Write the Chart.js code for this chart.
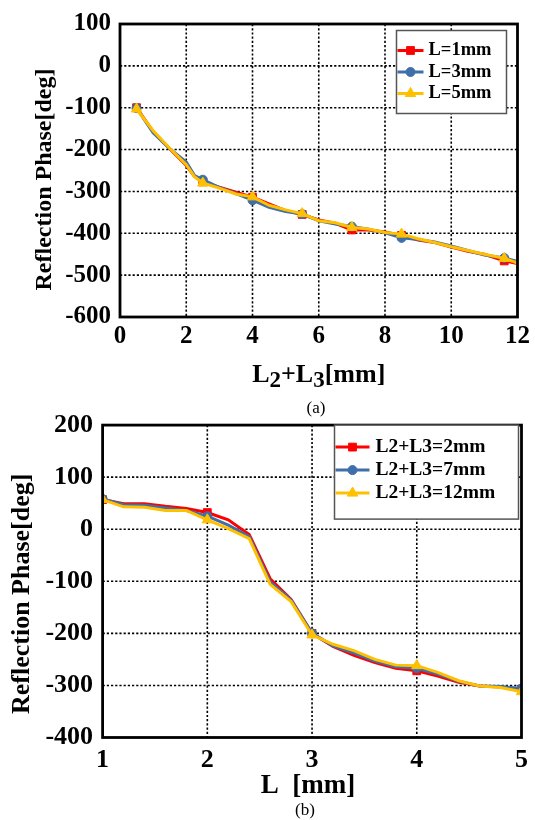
<!DOCTYPE html>
<html>
<head>
<meta charset="utf-8">
<script src="https://cdn.jsdelivr.net/npm/chart.js@4.4.0/dist/chart.umd.min.js"></script>
<style>
  body { margin: 0; background: #fff; width: 535px; height: 820px; position: relative; overflow: hidden; }
  .panel { position: absolute; left: 0; }
  #panelA { top: 0; }
  #panelB { top: 400px; }
  .cap { position: absolute; font: 17px 'Liberation Serif', 'Times New Roman', serif; transform: translate(-50%, -50%); }
</style>
</head>
<body>
<div class="panel" id="panelA"><canvas id="phaseA" width="535" height="400"></canvas></div>
<div class="panel" id="panelB"><canvas id="phaseB" width="535" height="420"></canvas></div>
<div class="cap" style="left:316px; top:408px">(a)</div>
<div class="cap" style="left:305px; top:810px">(b)</div>
<script>
const SERIF = "'Liberation Serif', 'Times New Roman', serif";

// (a) reflection phase against L2+L3, one curve per L
const sumLen = [0.5, 1, 1.5, 2, 2.25, 2.5, 3, 3.5, 4, 4.5, 5, 5.5, 6, 6.5, 7, 7.5, 8, 8.5, 9, 9.5, 10, 10.5, 11, 11.6, 12];
const phaseL1 = [-100, -157, -198, -238, -264, -277, -290, -302, -314, -330, -346, -355, -368, -376, -392, -392, -397, -405, -416, -422, -433, -443, -450, -466, -472];
const phaseL3 = [-101, -160, -198, -230, -262, -272, -291, -305, -321, -338, -348, -354, -370, -378, -384, -390, -399, -411, -415, -421, -430, -441, -452, -459, -467];
const phaseL5 = [-103, -155, -197, -236, -265, -280, -292, -306, -313, -333, -344, -353, -370, -375, -386, -390, -398, -402, -413, -422, -432, -441, -450, -460, -471];
const markedA = [0.5, 2.5, 4, 5.5, 7, 8.5, 11.6];
const labelsA = ['L=1mm', 'L=3mm', 'L=5mm'];

// (b) reflection phase against L, one curve per L2+L3
const lenL = [1, 1.2, 1.4, 1.6, 1.8, 2, 2.2, 2.4, 2.6, 2.8, 3, 3.2, 3.4, 3.6, 3.8, 4, 4.2, 4.4, 4.6, 4.8, 5];
const phaseS2 = [57, 49, 49, 44, 40, 32, 18, -10, -95, -135, -200, -225, -242, -256, -267, -272, -282, -294, -301, -303, -307];
const phaseS7 = [58, 47, 46, 41, 36, 25, 8, -14, -101, -136, -200, -224, -238, -253, -264, -267, -278, -292, -301, -302, -306];
const phaseS12 = [57, 43, 42, 36, 36, 18, 1, -18, -106, -139, -203, -221, -233, -250, -261, -262, -275, -291, -301, -304, -312];
const markedB = [1, 2, 3, 4, 5];
const labelsB = ['L2+L3=2mm', 'L2+L3=7mm', 'L2+L3=12mm'];

const RED = '#ff0000';
const BLUE = '#3f6eaa';
const GOLD = '#ffc000';

function series(label, xs, ys, marked, color, style, radius, order) {
  return {
    label: label,
    data: xs.map((x, i) => ({ x: x, y: ys[i] })),
    borderColor: color,
    backgroundColor: color,
    borderWidth: 3,
    tension: 0,
    pointStyle: style,
    pointRadius: xs.map(x => marked.includes(x) ? radius : 0),
    pointBorderWidth: 1,
    pointHoverRadius: 0,
    legendRadius: radius,
    order: order
  };
}

// dotted grid at every inner tick, drawn under the curves
const dottedGrid = {
  id: 'dottedGrid',
  beforeDatasetsDraw(chart) {
    const { ctx, chartArea: a } = chart;
    ctx.save();
    ctx.strokeStyle = '#000';
    ctx.lineWidth = 1.6;
    ctx.setLineDash([2.2, 2]);
    chart.scales.x.ticks.forEach(t => {
      const px = chart.scales.x.getPixelForValue(t.value);
      if (px < a.left + 3 || px > a.right - 3) return;
      ctx.beginPath();
      ctx.moveTo(px, a.top);
      ctx.lineTo(px, a.bottom);
      ctx.stroke();
    });
    chart.scales.y.ticks.forEach(t => {
      const py = chart.scales.y.getPixelForValue(t.value);
      if (py < a.top + 3 || py > a.bottom - 3) return;
      ctx.beginPath();
      ctx.moveTo(a.left, py);
      ctx.lineTo(a.right, py);
      ctx.stroke();
    });
    ctx.restore();
  }
};

// thick black box round the plot area
const frame = {
  id: 'frame',
  afterDatasetsDraw(chart) {
    const { ctx, chartArea: a } = chart;
    ctx.save();
    ctx.strokeStyle = '#000';
    ctx.lineWidth = 2.8;
    ctx.strokeRect(a.left, a.top, a.right - a.left, a.bottom - a.top);
    ctx.restore();
  }
};

// legend box inside the plot, upper right
function boxLegend(o) {
  return {
    id: 'boxLegend',
    afterDraw(chart) {
      const { ctx, chartArea: a } = chart;
      const x0 = a.right - o.fromRight;
      const y0 = a.top + o.fromTop;
      ctx.save();
      ctx.fillStyle = '#fff';
      ctx.fillRect(x0, y0, o.width, o.height);
      ctx.strokeStyle = '#555';
      ctx.lineWidth = 1.5;
      ctx.strokeRect(x0, y0, o.width, o.height);
      ctx.font = 'bold ' + o.fontSize + 'px ' + SERIF;
      ctx.textBaseline = 'middle';
      ctx.textAlign = 'left';
      chart.data.datasets.forEach((ds, i) => {
        const y = y0 + o.firstRow + i * o.rowGap;
        ctx.strokeStyle = ds.borderColor;
        ctx.lineWidth = 3;
        ctx.beginPath();
        ctx.moveTo(x0 + 1, y);
        ctx.lineTo(x0 + 1 + o.lineLen, y);
        ctx.stroke();
        ctx.fillStyle = ds.borderColor;
        ctx.lineWidth = 1;
        Chart.helpers.drawPoint(ctx, { pointStyle: ds.pointStyle, radius: ds.legendRadius, borderWidth: 1, rotation: 0 }, x0 + 1 + o.lineLen / 2, y);
        ctx.fillStyle = '#000';
        ctx.fillText(ds.label, x0 + o.textAt, y);
      });
      ctx.restore();
    }
  };
}

// axis titles; x title is a list of pieces so subscripts can drop below the baseline
function axisTitles(o) {
  return {
    id: 'axisTitles',
    afterDraw(chart) {
      const { ctx, chartArea: a } = chart;
      ctx.save();
      ctx.fillStyle = '#000';
      ctx.translate(a.left - o.yGap, (a.top + a.bottom) / 2 + o.yShift);
      ctx.rotate(-Math.PI / 2);
      ctx.font = 'bold ' + o.ySize + 'px ' + SERIF;
      ctx.textAlign = 'center';
      ctx.textBaseline = 'alphabetic';
      ctx.fillText(o.yText, 0, 0);
      ctx.restore();

      ctx.save();
      ctx.fillStyle = '#000';
      ctx.textBaseline = 'alphabetic';
      ctx.textAlign = 'left';
      const fontOf = p => 'bold ' + (p.sub ? o.subSize : o.xSize) + 'px ' + SERIF;
      let total = 0;
      o.xParts.forEach(p => { ctx.font = fontOf(p); total += ctx.measureText(p.t).width; });
      let x = (a.left + a.right) / 2 + o.xShift - total / 2;
      const base = a.bottom + o.xGap;
      o.xParts.forEach(p => {
        ctx.font = fontOf(p);
        ctx.fillText(p.t, x, base + (p.sub ? o.subDrop : 0));
        x += ctx.measureText(p.t).width;
      });
      ctx.restore();
    }
  };
}

function makeChart(id, cfg) {
  return new Chart(document.getElementById(id), {
    type: 'line',
    data: { datasets: cfg.datasets },
    options: {
      responsive: false,
      animation: false,
      events: [],
      layout: { padding: cfg.padding },
      plugins: { legend: { display: false }, tooltip: { enabled: false } },
      scales: {
        x: {
          type: 'linear',
          min: cfg.xMin, max: cfg.xMax,
          ticks: { stepSize: cfg.xStep, color: '#000', padding: cfg.xTickPad, maxRotation: 0, font: { family: SERIF, size: cfg.tickSize, weight: 'bold' } },
          grid: { display: false, drawTicks: false },
          border: { display: false },
          afterFit(scale) { scale.height = cfg.xAxisHeight; }
        },
        y: {
          min: cfg.yMin, max: cfg.yMax,
          ticks: { stepSize: 100, color: '#000', padding: cfg.yTickPad, font: { family: SERIF, size: cfg.tickSize, weight: 'bold' } },
          grid: { display: false, drawTicks: false },
          border: { display: false },
          afterFit(scale) { scale.width = cfg.yAxisWidth; }
        }
      }
    },
    plugins: [dottedGrid, frame, boxLegend(cfg.legend), axisTitles(cfg.titles)]
  });
}

makeChart('phaseA', {
  datasets: [
    series(labelsA[0], sumLen, phaseL1, markedA, RED, 'rect', 5.5, 3),
    series(labelsA[1], sumLen, phaseL3, markedA, BLUE, 'circle', 4.5, 2),
    series(labelsA[2], sumLen, phaseL5, markedA, GOLD, 'triangle', 6, 1)
  ],
  padding: { left: 0, top: 21.5, right: 14, bottom: 0 },
  xMin: 0, xMax: 12, xStep: 2,
  yMin: -600, yMax: 100,
  tickSize: 25, xTickPad: 5, yTickPad: 9,
  xAxisHeight: 83, yAxisWidth: 120,
  legend: { fromRight: 121, fromTop: 6.5, width: 110, height: 83, firstRow: 20, rowGap: 21.5, lineLen: 26, textAt: 32, fontSize: 18.5 },
  titles: {
    yText: 'Reflection Phase[deg]', ySize: 24, yGap: 69, yShift: 9,
    xParts: [{ t: 'L' }, { t: '2', sub: true }, { t: '+L' }, { t: '3', sub: true }, { t: '[mm]' }],
    xSize: 26, subSize: 23, subDrop: 5, xGap: 65, xShift: 0
  }
});

makeChart('phaseB', {
  datasets: [
    series(labelsB[0], lenL, phaseS2, markedB, RED, 'rect', 5.5, 3),
    series(labelsB[1], lenL, phaseS7, markedB, BLUE, 'circle', 4.5, 2),
    series(labelsB[2], lenL, phaseS12, markedB, GOLD, 'triangle', 6, 1)
  ],
  padding: { left: 0, top: 24.5, right: 9.5, bottom: 0 },
  xMin: 1, xMax: 5, xStep: 1,
  yMin: -400, yMax: 200,
  tickSize: 26, xTickPad: 7, yTickPad: 9.5,
  xAxisHeight: 82.5, yAxisWidth: 102.6,
  legend: { fromRight: 187, fromTop: 0, width: 184, height: 94, firstRow: 22, rowGap: 23, lineLen: 34, textAt: 41, fontSize: 19.5 },
  titles: {
    yText: 'Reflection Phase[deg]', ySize: 26, yGap: 73.6, yShift: 12.5,
    xParts: [{ t: 'L  [mm]' }],
    xSize: 27, subSize: 23, subDrop: 0, xGap: 55.5, xShift: -4
  }
});
</script>
</body>
</html>
